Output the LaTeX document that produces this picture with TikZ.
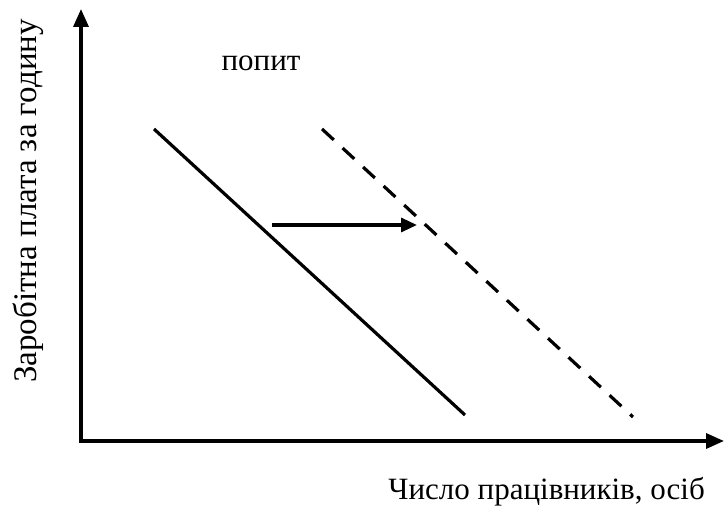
\documentclass[tikz,border=0pt]{standalone}
\usepackage{fontspec}
\setmainfont{Liberation Serif}
\usetikzlibrary{arrows.meta}
\begin{document}
\begin{tikzpicture}[x=1pt,y=-1pt,
  axis/.style={line width=3.4pt,-{Triangle[width=15pt,length=18pt]}},
  curve/.style={line width=3.2pt},
  shift arrow/.style={line width=3.2pt,-{Triangle[width=14pt,length=16pt]}},
  lbl/.style={font=\fontsize{31}{34}\selectfont,inner sep=0pt}]
\useasboundingbox (0,0) rectangle (724,510);
\coordinate (O) at (81,441);
\coordinate (ytop) at (81,9);
\coordinate (xend) at (724,441);
\draw[axis] ([yshift=-1.7pt]O) -- (ytop);
\draw[axis] ([xshift=-1.7pt]O) -- (xend);
\coordinate (s1) at (154,129);
\coordinate (s2) at (465,415);
\draw[curve] (s1) -- (s2);
\coordinate (d1) at (322,129);
\coordinate (d2) at (633,417);
\draw[curve,dash pattern=on 16pt off 12pt] (d1) -- (d2);
\coordinate (a1) at (272,225);
\coordinate (a2) at (417,225);
\draw[shift arrow] (a1) -- (a2);
\node[lbl,anchor=base] (demand) at (261,71) {попит};
\node[lbl,anchor=base east] (xlabel) at (705,500) {Число працівників, осіб};
\node[lbl,font=\fontsize{33}{36}\selectfont,anchor=base,rotate=90] (ylabel) at (36,201) {Заробітна плата за годину};
\end{tikzpicture}
\end{document}
